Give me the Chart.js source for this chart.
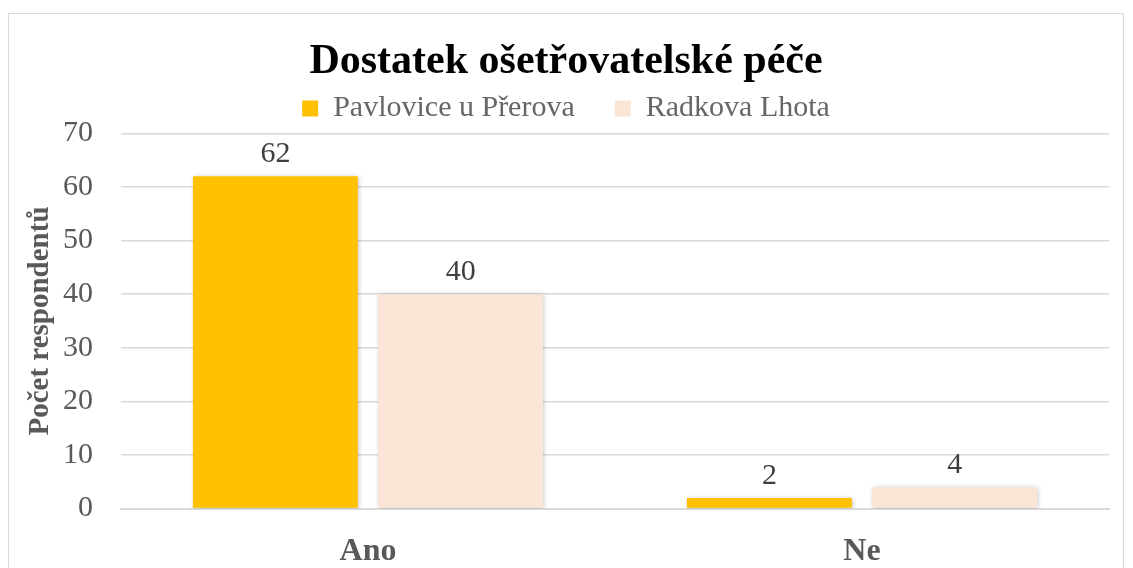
<!DOCTYPE html>
<html lang="cs">
<head>
<meta charset="UTF-8">
<title>Dostatek ošetřovatelské péče</title>
<script src="https://cdn.jsdelivr.net/npm/chart.js"></script>
<style>
  html, body { margin: 0; padding: 0; background: #fff; }
  #wrap {
    position: absolute; left: 8px; top: 13px;
    width: 1116px; height: 570px;
    border: 1px solid #d9d9d9; box-sizing: border-box;
  }
</style>
</head>
<body>
<div id="wrap"><canvas id="chart" width="1114" height="568"></canvas></div>
<script>
  const categories = ['Ano', 'Ne'];
  const seriesNames = ['Pavlovice u Přerova', 'Radkova Lhota'];
  const pavlovice = [62, 2];
  const radkova = [40, 4];
  const colors = ['#FFC000', '#FBE5D6'];

  const serif = '"Liberation Serif", "Times New Roman", serif';

  // value labels above each bar
  const valueLabels = {
    id: 'valueLabels',
    afterDatasetsDraw(chart) {
      const ctx = chart.ctx;
      ctx.save();
      ctx.font = '30px ' + serif;
      ctx.fillStyle = '#404040';
      ctx.textAlign = 'center';
      ctx.textBaseline = 'alphabetic';
      chart.data.datasets.forEach((ds, i) => {
        chart.getDatasetMeta(i).data.forEach((bar, j) => {
          ctx.fillText(ds.data[j], bar.x, bar.y - 14);
        });
      });
      ctx.restore();
    }
  };

  // soft shadow under bars
  const barShadow = {
    id: 'barShadow',
    beforeDatasetsDraw(chart) {
      const ctx = chart.ctx;
      ctx.save();
      ctx.shadowColor = 'rgba(0,0,0,0.25)';
      ctx.shadowBlur = 5;
      ctx.shadowOffsetX = 1;
      ctx.shadowOffsetY = 1;
    },
    afterDatasetsDraw(chart) {
      chart.ctx.restore();
    }
  };

  new Chart(document.getElementById('chart').getContext('2d'), {
    type: 'bar',
    data: {
      labels: categories,
      datasets: [
        { label: seriesNames[0], data: pavlovice, backgroundColor: colors[0] },
        { label: seriesNames[1], data: radkova, backgroundColor: colors[1] }
      ]
    },
    options: {
      responsive: false,
      animation: false,
      categoryPercentage: 0.75,
      barPercentage: 0.89,
      layout: { padding: { left: 14, right: 14, top: 23, bottom: -5 } },
      plugins: {
        title: {
          display: true,
          text: 'Dostatek ošetřovatelské péče',
          color: '#000',
          font: { family: serif, size: 42, weight: 'bold' },
          padding: { top: 0, bottom: -34 }
        },
        legend: {
          maxHeight: 96,
          labels: {
            color: '#666666',
            font: { family: serif, size: 30 },
            boxWidth: 16, boxHeight: 16,
            padding: 40
          }
        },
        tooltip: { enabled: false }
      },
      scales: {
        x: {
          grid: { display: false },
          border: { color: '#d9d9d9', width: 2 },
          ticks: {
            color: '#595959',
            font: { family: serif, size: 32, weight: 'bold' },
            padding: 16
          }
        },
        y: {
          min: 0, max: 70,
          afterFit(scale) { scale.width = 98; },
          ticks: {
            stepSize: 10,
            color: '#595959',
            font: { family: serif, size: 30 },
            padding: 28
          },
          grid: { color: '#d9d9d9', lineWidth: 1.5, drawTicks: false },
          border: { display: false },
          title: {
            display: true,
            text: 'Počet respondentů',
            color: '#595959',
            font: { family: serif, size: 29, weight: 'bold' },
            padding: 0
          }
        }
      }
    },
    plugins: [barShadow, valueLabels]
  });
</script>
</body>
</html>
